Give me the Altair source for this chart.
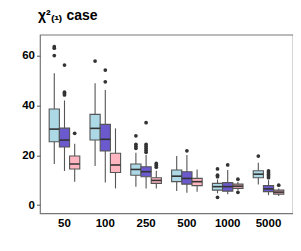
import altair as alt
import pandas as pd

sizes = ["50", "100", "250", "500", "1000", "5000"]
methods = ["A", "B", "C"]
colors = ["#ADD8E6", "#6A5ACD", "#FFB6C1"]

# box statistics per method, one value per sample size
lo_A = [16.5, 15.7, 7.4, 5.7, 4.7, 8.3]
q1_A = [25.4, 26.1, 12.0, 9.4, 6.0, 11.0]
md_A = [30.5, 30.8, 14.3, 11.6, 7.4, 12.4]
q3_A = [38.6, 36.4, 16.5, 14.1, 8.7, 13.8]
hi_A = [52.9, 48.9, 21.0, 19.7, 10.3, 17.0]

lo_B = [13.7, 9.1, 6.7, 4.9, 4.3, 4.0]
q1_B = [23.3, 21.7, 11.4, 8.4, 5.6, 5.4]
md_B = [26.1, 26.4, 13.4, 10.7, 7.4, 6.5]
q3_B = [30.9, 32.4, 15.4, 13.4, 9.0, 7.8]
hi_B = [42.0, 46.2, 20.1, 20.1, 14.1, 10.0]

lo_C = [9.4, 6.7, 6.7, 5.4, 6.0, 3.6]
q1_C = [14.5, 13.1, 8.7, 7.8, 6.7, 4.4]
md_C = [16.5, 16.1, 9.9, 9.4, 7.6, 5.2]
q3_C = [19.7, 20.8, 11.0, 10.7, 8.4, 6.0]
hi_C = [24.6, 30.8, 13.8, 14.3, 9.4, 6.7]

# outliers
out_size = (["50"] * 3 + ["50"] * 4 + ["50"] + ["100"] + ["100"] * 2
            + ["250"] * 4 + ["250"] * 6 + ["250"] * 3 + ["500"]
            + ["1000"] * 4 + ["1000"] + ["1000"] * 2
            + ["5000"] + ["5000"] * 5 + ["5000"])
out_method = (["A"] * 3 + ["B"] * 4 + ["C"] + ["A"] + ["B"] * 2
              + ["A"] * 4 + ["B"] * 6 + ["C"] * 3 + ["B"]
              + ["A"] * 4 + ["B"] + ["C"] * 2
              + ["A"] + ["B"] * 5 + ["C"])
out_value = ([63.6, 63.0, 60.0] + [56.2, 45.3, 44.7, 44.2] + [28.8] + [57.8] + [54.2, 49.5]
             + [27.8, 24.4, 23.6, 22.8] + [33.1, 24.4, 23.6, 22.8, 22.0, 21.2] + [16.7, 16.0, 15.2] + [21.8]
             + [14.5, 12.0, 11.4, 3.1] + [16.1] + [10.4, 5.1]
             + [19.7] + [13.7, 13.0, 12.3, 11.7, 11.0] + [8.0])

rows = []
for m, lo, q1, md, q3, hi in [("A", lo_A, q1_A, md_A, q3_A, hi_A),
                              ("B", lo_B, q1_B, md_B, q3_B, hi_B),
                              ("C", lo_C, q1_C, md_C, q3_C, hi_C)]:
    for i, s in enumerate(sizes):
        rows.append(dict(size=s, method=m, lo=lo[i], q1=q1[i], med=md[i], q3=q3[i], hi=hi[i]))
box_df = pd.DataFrame(rows)
out_df = pd.DataFrame(dict(size=out_size, method=out_method, value=out_value))

FONT = "Liberation Sans"

x = alt.X("size:N", sort=sizes,
          scale=alt.Scale(domain=sizes, paddingInner=0.25, paddingOuter=0.225),
          axis=alt.Axis(title=None, labelAngle=0, domain=False, ticks=False,
                        labelFont=FONT, labelFontSize=11.5, labelFontWeight="bold",
                        labelColor="black", labelPadding=4))
xo = alt.XOffset("method:N", scale=alt.Scale(domain=methods, paddingInner=0, paddingOuter=0))
yscale = alt.Scale(domain=[-3.3, 68.4], nice=False, zero=False)
yaxis = alt.Axis(title=None, values=[0, 20, 40, 60], grid=False, domain=False,
                 tickSize=3.5, tickColor="#555", labelFont=FONT, labelFontSize=11.5,
                 labelFontWeight="bold", labelColor="black", labelPadding=2)

base_box = alt.Chart(box_df)

whisk = base_box.mark_rule(color="#555", strokeWidth=1.1).encode(
    x=x, xOffset=xo, y=alt.Y("lo:Q", scale=yscale, axis=yaxis), y2="hi:Q")

boxes = base_box.mark_bar(stroke="#555", strokeWidth=1.1).encode(
    x=x, xOffset=xo, y=alt.Y("q1:Q", scale=yscale), y2="q3:Q",
    color=alt.Color("method:N", scale=alt.Scale(domain=methods, range=colors), legend=None))

meds = base_box.mark_tick(color="#333", thickness=1.6, size=10, opacity=1).encode(
    x=x, xOffset=xo, y=alt.Y("med:Q", scale=yscale))

outs = alt.Chart(out_df).mark_circle(color="#333", size=14, opacity=1).encode(
    x=x, xOffset=xo, y=alt.Y("value:Q", scale=yscale))

chart = alt.layer(whisk, boxes, meds, outs).properties(
    width=253, height=178.6,
    autosize=alt.AutoSizeParams(type="none"),
    padding={"left": 32, "top": 26.7, "right": 0, "bottom": 30},
    title=alt.TitleParams("χ²₍₁₎ case", anchor="start", frame="group", font=FONT,
                          fontSize=14, fontWeight="bold", color="black", offset=12, dx=-2),
).configure_view(stroke="#777", strokeWidth=1.2)

chart.save("out.html", embed_options={"renderer": "svg", "actions": False})
